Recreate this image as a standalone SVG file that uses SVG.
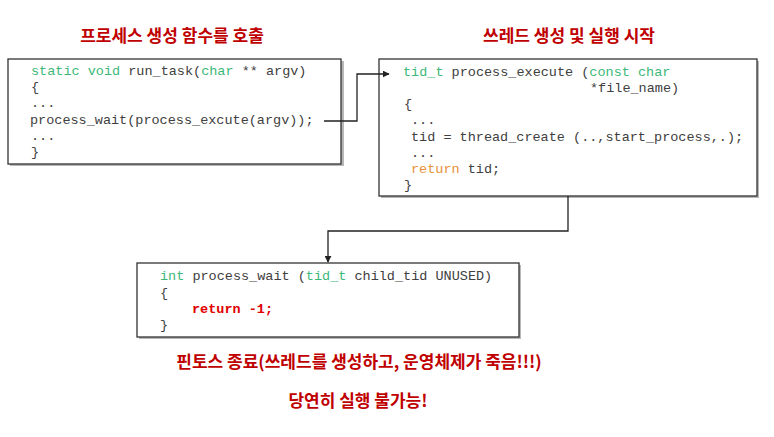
<svg xmlns="http://www.w3.org/2000/svg" width="774" height="437" viewBox="0 0 774 437">
<style>
.box{fill:#fff;stroke:#333;stroke-width:1.3}
.shadow{fill:#b8b8b8}
.code{font-family:"Liberation Mono","DejaVu Sans Mono",monospace;font-size:13.5px;fill:#404040}
.kw{fill:#3cb878}
.ret{fill:#e69138}
.red{fill:#e00000;font-weight:bold}
.title{font-family:"Noto Sans CJK KR","Noto Sans",sans-serif;font-size:17px;font-weight:bold;fill:#c00000;text-anchor:middle}
.conn{fill:none;stroke:#222;stroke-width:1.3}
</style>
<defs>
<marker id="arr" viewBox="0 0 10 10" refX="9" refY="5" markerWidth="7" markerHeight="7" orient="auto" markerUnits="userSpaceOnUse">
<path d="M0,0 L10,5 L0,10 z" fill="#222"/>
</marker>
</defs>
<rect width="774" height="437" fill="#fff"/>
<text class="title" x="172" y="42">프로세스 생성 함수를 호출</text>
<text class="title" x="569" y="42">쓰레드 생성 및 실행 시작</text>
<g id="run_task">
<rect class="shadow" x="10" y="61" width="334" height="105"/>
<rect class="box" x="8" y="59" width="333" height="105"/>
<text class="code" x="31" y="75"><tspan class="kw">static void</tspan> run_task(<tspan class="kw">char</tspan> ** argv)</text>
<text class="code" x="31" y="91">{</text>
<text class="code" x="31" y="107">...</text>
<text class="code" x="30" y="124">process_wait(process_excute(argv));</text>
<text class="code" x="31" y="140">...</text>
<text class="code" x="31" y="156">}</text>
</g>
<g id="process_execute">
<rect class="shadow" x="381" y="61" width="378" height="137"/>
<rect class="box" x="379" y="59" width="378" height="137"/>
<text class="code" x="403" y="76"><tspan class="kw">tid_t</tspan> process_execute (<tspan class="kw">const char</tspan></text>
<text class="code" x="590" y="92">*file_name)</text>
<text class="code" x="404" y="108">{</text>
<text class="code" x="411" y="124">...</text>
<text class="code" x="411" y="141">tid = thread_create (..,start_process,.);</text>
<text class="code" x="411" y="157">...</text>
<text class="code" x="411" y="173"><tspan class="ret">return</tspan> tid;</text>
<text class="code" x="404" y="189">}</text>
</g>
<g id="process_wait">
<rect class="shadow" x="139" y="265" width="382" height="74"/>
<rect class="box" x="137" y="263" width="382" height="74"/>
<text class="code" x="160" y="280"><tspan class="kw">int</tspan> process_wait (<tspan class="kw">tid_t</tspan> child_tid UNUSED)</text>
<text class="code" x="160" y="297">{</text>
<text class="code red" x="192" y="313">return -1;</text>
<text class="code" x="160" y="329">}</text>
</g>
<g id="connectors">
<path class="conn" d="M324,121 H357 V74 H389" marker-end="url(#arr)"/>
<path class="conn" d="M568,196 V231 H328 V262" marker-end="url(#arr)"/>
</g>
<text class="title" x="359" y="368">핀토스 종료(쓰레드를 생성하고, 운영체제가 죽음!!!)</text>
<text class="title" x="358" y="407">당연히 실행 불가능!</text>
</svg>
